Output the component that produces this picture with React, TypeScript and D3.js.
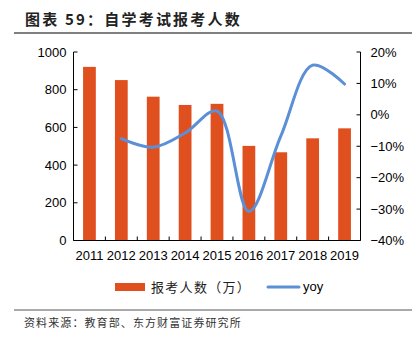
import React from "react";
import * as d3 from "d3";

const years = ["2011", "2012", "2013", "2014", "2015", "2016", "2017", "2018", "2019"];
const applicants = [921, 851, 763, 719, 725, 502, 468, 542, 595];
const yoyYears = ["2012", "2013", "2014", "2015", "2016", "2017", "2018", "2019"];
const yoy = [-7.6, -10.3, -5.8, 1.2, -30.8, -6.8, 15.8, 9.8];
const leftTicks = [0, 200, 400, 600, 800, 1000];
const rightTicks = [-40, -30, -20, -10, 0, 10, 20];

const W = 419, H = 346;
const L = 73.5, R = 360.5, T = 52, B = 240.5;
const BAR = "#E0501F";
const LINE = "#5B8FD6";
const SANS = "'Liberation Sans', Arial, sans-serif";
const CJK = "'Noto Sans CJK SC', sans-serif";

export default function App() {
  const x = d3.scaleBand().domain(years).range([L, R]).paddingInner(0.6).paddingOuter(0.3);
  const xb = d3.scaleBand().domain(years).range([L, R]);
  const y = d3.scaleLinear().domain([0, 1000]).range([B, T]);
  const y2 = d3.scaleLinear().domain([-40, 20]).range([B, T]);
  const line = d3
    .line<number>()
    .x((_, i) => xb(yoyYears[i])! + xb.bandwidth() / 2)
    .y((d) => y2(d))
    .curve(d3.curveCatmullRom.alpha(0.5));

  return (
    <svg width={W} height={H} style={{ position: "absolute", left: 0, top: 0, background: "#fff" }}>
      <text x={25} y={25} fontFamily={CJK} fontWeight="bold" fontSize={15} letterSpacing={2.2} fill="#222">
        图表 59：自学考试报考人数
      </text>
      <line x1={14} x2={412} y1={33} y2={33} stroke="#808080" strokeWidth={2} />

      {applicants.map((v, i) => (
        <rect key={years[i]} x={x(years[i])} y={y(v)} width={x.bandwidth()} height={B - y(v)} fill={BAR} />
      ))}

      <path d={line(yoy) || ""} fill="none" stroke={LINE} strokeWidth={3} strokeLinecap="round" />

      {/* left axis */}
      <line x1={L} x2={L} y1={T} y2={B} stroke="#000" />
      {leftTicks.map((t) => (
        <g key={t}>
          <line x1={L} x2={L + 4} y1={y(t)} y2={y(t)} stroke="#000" />
          <text x={L - 7} y={y(t) + 4.5} textAnchor="end" fontFamily={SANS} fontSize={13} fill="#000">
            {t}
          </text>
        </g>
      ))}
      {/* right axis */}
      <line x1={R} x2={R} y1={T} y2={B} stroke="#000" />
      {rightTicks.map((t) => (
        <g key={t}>
          <line x1={R - 4} x2={R} y1={y2(t)} y2={y2(t)} stroke="#000" />
          <text x={R + 10} y={y2(t) + 4.5} textAnchor="start" fontFamily={SANS} fontSize={13} fill="#000">
            {t < 0 ? "\u2212" + Math.abs(t) + "%" : t + "%"}
          </text>
        </g>
      ))}
      {/* bottom axis */}
      <line x1={L} x2={R} y1={B} y2={B} stroke="#000" />
      {years.slice(1).map((yr) => (
        <line key={yr} x1={xb(yr)} x2={xb(yr)} y1={B} y2={B - 4} stroke="#000" />
      ))}
      {years.map((yr) => (
        <text key={yr} x={xb(yr)! + xb.bandwidth() / 2} y={B + 19} textAnchor="middle" fontFamily={SANS} fontSize={13} fill="#000">
          {yr}
        </text>
      ))}

      {/* legend */}
      <rect x={115} y={283} width={30} height={8} fill={BAR} />
      <text x={151} y={292} fontFamily={CJK} fontSize={13} letterSpacing={1.3} fill="#222">
        报考人数（万）
      </text>
      <line x1={268} x2={299} y1={287} y2={287} stroke={LINE} strokeWidth={3} strokeLinecap="round" />
      <text x={303} y={291} fontFamily={SANS} fontSize={13} fill="#000">
        yoy
      </text>

      <line x1={14} x2={412} y1={310} y2={310} stroke="#555" strokeWidth={1} />
      <text x={24} y={327} fontFamily={CJK} fontSize={11} letterSpacing={1.1} fill="#333">
        资料来源：教育部、东方财富证券研究所
      </text>
    </svg>
  );
}
